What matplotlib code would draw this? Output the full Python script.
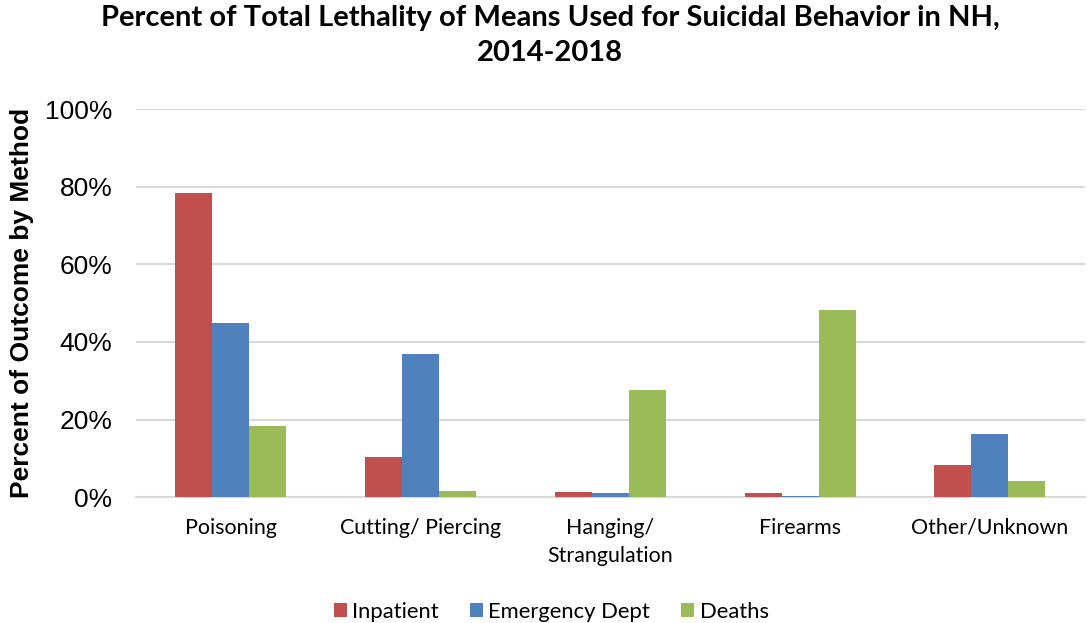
import numpy as np
import matplotlib
matplotlib.use("Agg")
from matplotlib import pyplot as plt
from matplotlib.ticker import PercentFormatter

methods = ["Poisoning", "Cutting/ Piercing", "Hanging/\nStrangulation", "Firearms", "Other/Unknown"]
inpatient = [78.4, 10.4, 1.4, 1.1, 8.2]
emergency = [44.9, 37.0, 1.1, 0.3, 16.2]
deaths = [18.4, 1.6, 27.5, 48.1, 4.1]

series = ["Inpatient", "Emergency Dept", "Deaths"]
colors = ["#C0504D", "#4F81BD", "#9BBB59"]

LABEL_FONT = "Lato"
TICK_FONT = "Liberation Sans"
BAR_W = 0.195

fig = plt.figure(figsize=(10.87, 6.23), dpi=100)
ax = fig.add_axes([0.125, 0.202, 0.873, 0.623])

x = np.arange(len(methods))
for i, (vals, name, col) in enumerate(zip([inpatient, emergency, deaths], series, colors)):
    ax.bar(x + (i - 1) * BAR_W, vals, BAR_W, color=col, label=name, zorder=3)

ax.set_xlim(-0.5, len(methods) - 0.5)
ax.set_ylim(0, 100)
ax.set_yticks(range(0, 101, 20))
ax.yaxis.set_major_formatter(PercentFormatter(decimals=0))
ax.grid(axis="y", color="#D9D9D9", linewidth=1.5, zorder=0)

for side in ["top", "right", "left"]:
    ax.spines[side].set_visible(False)
ax.spines["bottom"].set_color("#D9D9D9")
ax.spines["bottom"].set_linewidth(1.5)

ax.tick_params(axis="both", length=0)
ax.tick_params(axis="y", pad=17)
ax.tick_params(axis="x", pad=15)
ax.set_xticks(x)
ax.set_xticklabels(methods, fontfamily=LABEL_FONT, fontsize=15.4, linespacing=1.5)
for lbl in ax.get_yticklabels():
    lbl.set_fontfamily(TICK_FONT)
    lbl.set_fontsize(19)

ax.set_ylabel("Percent of Outcome by Method", fontfamily=TICK_FONT, fontweight="bold",
              fontsize=19, labelpad=8)

fig.suptitle("Percent of Total Lethality of Means Used for Suicidal Behavior in NH,\n2014-2018",
             fontfamily=LABEL_FONT, fontweight="bold", fontsize=21, linespacing=1.45,
             x=0.506, y=0.992)

leg = fig.legend(loc="lower center", bbox_to_anchor=(0.507, -0.03), ncol=3, frameon=False,
                 prop={"family": LABEL_FONT, "size": 15.8}, handlelength=0.6, handleheight=0.6,
                 handletextpad=0.25, columnspacing=1.4)

fig.savefig("out.png", dpi=100)
